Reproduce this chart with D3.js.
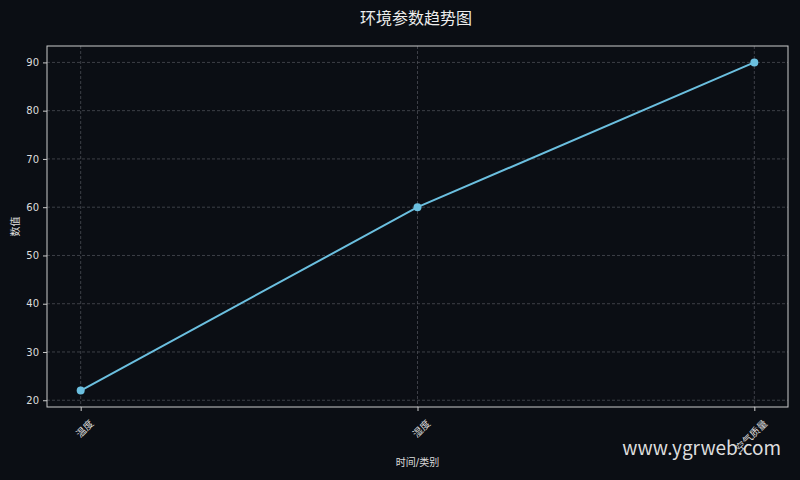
<!DOCTYPE html>
<html>
<head>
<meta charset="utf-8">
<script src="https://cdn.jsdelivr.net/npm/d3@7"></script>
<style>
  body { margin: 0; background: #0b0e14; }
  text { font-family: "DejaVu Sans", "Noto Sans CJK SC", sans-serif; }
</style>
</head>
<body>
<div id="chart"></div>
<script>
// chart data
const categories = ["温度", "湿度", "空气质量"];
const values = [22, 60, 90];
const yTicks = [20, 30, 40, 50, 60, 70, 80, 90];

const width = 800, height = 480;
const margin = {top: 46, right: 12, bottom: 73, left: 47};

const svg = d3.select("#chart")
    .append("svg")
        .attr("width", width)
        .attr("height", height);

svg.append("rect")
    .attr("width", width)
    .attr("height", height)
    .attr("fill", "#0b0e14");

// x is a point scale padded like matplotlib's 5% margins
const x = d3.scaleLinear()
    .domain([-0.1, categories.length - 1 + 0.1])
    .range([margin.left, width - margin.right]);

const yMin = d3.min(values), yMax = d3.max(values);
const pad = (yMax - yMin) * 0.05;
const y = d3.scaleLinear()
    .domain([yMin - pad, yMax + pad])
    .range([height - margin.bottom, margin.top]);

// grid lines
const grid = svg.append("g");
grid.selectAll("line.h")
    .data(yTicks)
    .enter().append("line")
        .attr("x1", margin.left)
        .attr("x2", width - margin.right)
        .attr("y1", d => y(d))
        .attr("y2", d => y(d))
        .attr("stroke", "#4a4d54")
        .attr("stroke-width", 0.8)
        .attr("stroke-dasharray", "3,2");
grid.selectAll("line.v")
    .data(categories)
    .enter().append("line")
        .attr("x1", (d, i) => x(i))
        .attr("x2", (d, i) => x(i))
        .attr("y1", margin.top)
        .attr("y2", height - margin.bottom)
        .attr("stroke", "#4a4d54")
        .attr("stroke-width", 0.8)
        .attr("stroke-dasharray", "3,2");

// axes
const xAxis = svg.append("g")
    .attr("transform", "translate(0," + (height - margin.bottom) + ")")
    .call(d3.axisBottom(x)
        .tickValues(categories.map((d, i) => i))
        .tickFormat(i => categories[i])
        .tickSize(4).tickPadding(4));
xAxis.select(".domain").remove();
xAxis.selectAll(".tick line").attr("stroke", "#cccccc");
xAxis.selectAll(".tick text")
    .attr("fill", "#dddddd")
    .attr("font-size", 10)
    .attr("text-anchor", "end")
    .attr("dy", "0.35em")
    .attr("transform", "translate(5,9) rotate(-45)");

const yAxis = svg.append("g")
    .attr("transform", "translate(" + margin.left + ",0)")
    .call(d3.axisLeft(y)
        .tickValues(yTicks)
        .tickSize(4).tickPadding(4));
yAxis.select(".domain").remove();
yAxis.selectAll(".tick line").attr("stroke", "#cccccc");
yAxis.selectAll(".tick text")
    .attr("fill", "#dddddd")
    .attr("font-size", 10);

// frame
svg.append("rect")
    .attr("x", margin.left)
    .attr("y", margin.top)
    .attr("width", width - margin.left - margin.right)
    .attr("height", height - margin.top - margin.bottom)
    .attr("fill", "none")
    .attr("stroke", "#cccccc")
    .attr("stroke-width", 1);

// the line
const line = d3.line()
    .x((d, i) => x(i))
    .y(d => y(d));
svg.append("path")
    .datum(values)
    .attr("d", line)
    .attr("fill", "none")
    .attr("stroke", "#6bbfdf")
    .attr("stroke-width", 2);

svg.selectAll("circle.pt")
    .data(values)
    .enter().append("circle")
        .attr("cx", (d, i) => x(i))
        .attr("cy", d => y(d))
        .attr("r", 4)
        .attr("fill", "#6bbfdf");

// titles
svg.append("text")
    .attr("x", width / 2 + 16)
    .attr("y", 24)
    .attr("text-anchor", "middle")
    .attr("fill", "#eeeeee")
    .attr("font-size", 16)
    .text("环境参数趋势图");

svg.append("text")
    .attr("x", (margin.left + width - margin.right) / 2)
    .attr("y", 466)
    .attr("text-anchor", "middle")
    .attr("fill", "#dddddd")
    .attr("font-size", 10)
    .text("时间/类别");

svg.append("text")
    .attr("transform", "translate(19," + ((margin.top + height - margin.bottom) / 2) + ") rotate(-90)")
    .attr("text-anchor", "middle")
    .attr("fill", "#dddddd")
    .attr("font-size", 10)
    .text("数值");

// watermark
svg.append("text")
    .attr("x", 781)
    .attr("y", 455)
    .attr("text-anchor", "end")
    .attr("fill", "#dddddd")
    .attr("font-size", 19)
    .style("font-family", "\"Noto Sans CJK SC\", \"Noto Sans\", sans-serif")
    .text("www.ygrweb.com");
</script>
</body>
</html>
